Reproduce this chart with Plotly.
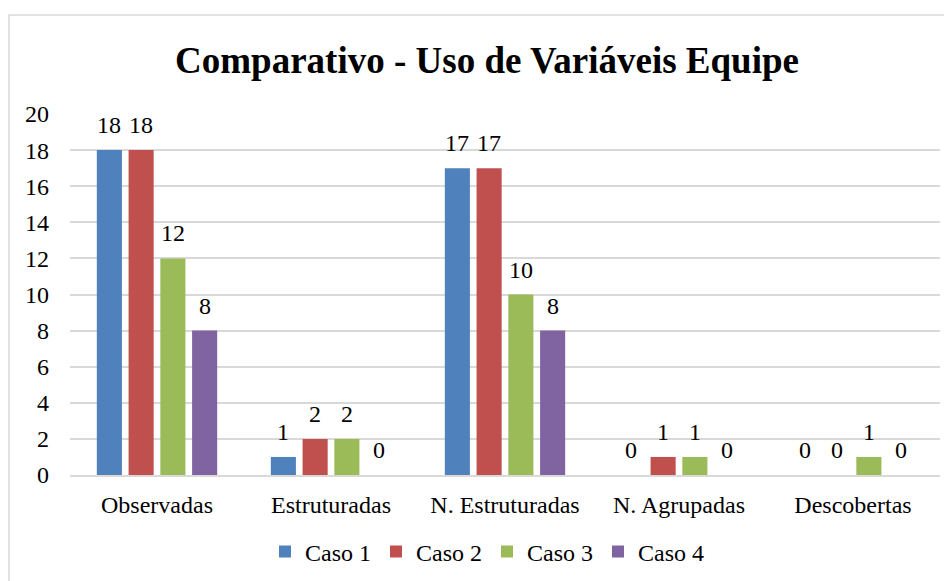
import plotly.graph_objects as go

categories = ["Observadas", "Estruturadas", "N. Estruturadas", "N. Agrupadas", "Descobertas"]
series_names = ["Caso 1", "Caso 2", "Caso 3", "Caso 4"]
caso1 = [18, 1, 17, 0, 0]
caso2 = [18, 2, 17, 1, 0]
caso3 = [12, 2, 10, 1, 1]
caso4 = [8, 0, 8, 0, 0]
colors = ["#4F81BD", "#C0504D", "#9BBB59", "#8064A2"]
y_ticks = [0, 2, 4, 6, 8, 10, 12, 14, 16, 18, 20]

FONT = "Liberation Serif, Times New Roman, serif"

# page body has an 8px default margin; compensate
OFF = 8
W, H = 952 - OFF, 581 - OFF
L = 70 - OFF
T = 114 - OFF
B = H - (475 - OFF)
R = W - (940 - OFF)
pw, ph = W - L - R, H - T - B

BARGAP, GROUPGAP = 0.27, 0.21
all_series = [caso1, caso2, caso3, caso4]

fig = go.Figure()
for name, vals, col in zip(series_names, all_series, colors):
    fig.add_trace(go.Bar(
        name=name, x=categories, y=vals, marker_color=col,
        marker_line_width=0,
    ))

# data labels as annotations above each bar
cat_w = pw / len(categories)
slot = cat_w * (1 - BARGAP) / len(all_series)
annotations = []
for i, vals in enumerate(all_series):
    shift = (i - (len(all_series) - 1) / 2) * slot
    for c, v in zip(categories, vals):
        annotations.append(dict(x=c, y=v, xref="x", yref="y", text=str(v),
                                showarrow=False, xshift=shift, yshift=25,
                                yanchor="middle", xanchor="center",
                                font=dict(family=FONT, size=24, color="#000000")))

fig.update_layout(
    width=W, height=H,
    margin=dict(l=L, r=R, t=T, b=B, autoexpand=False),
    paper_bgcolor="white", plot_bgcolor="white",
    barmode="group", bargap=BARGAP, bargroupgap=GROUPGAP,
    font=dict(family=FONT, size=24, color="#000000"),
    title=dict(text="<b>Comparativo - Uso de Variáveis Equipe</b>",
               font=dict(family=FONT, size=37, color="#000000"),
               x=(487 - OFF) / W, xanchor="center", y=1 - (60 - OFF) / H, yanchor="middle"),
    legend=dict(orientation="h", x=(487 - OFF - L) / pw, xanchor="center",
                y=((475 - OFF) - (552 - OFF)) / ph, yanchor="middle",
                font=dict(family=FONT, size=24), itemwidth=30,
                traceorder="normal"),
    annotations=annotations,
    shapes=[dict(type="rect", xref="paper", yref="paper",
                 x0=(1 - L) / pw, x1=(W + 20 - L) / pw,
                 y0=-(H + 20 - (T + ph)) / ph, y1=((T + ph) - (15 - OFF)) / ph,
                 line=dict(color="#D9D9D9", width=1.5), fillcolor="rgba(0,0,0,0)", layer="below")],
)
fig.update_yaxes(range=[0, 20], tickvals=y_ticks, showgrid=True, gridcolor="#D9D9D9",
                 gridwidth=1.5, zeroline=False, showline=False, ticks="",
                 ticklabelstandoff=20, tickfont=dict(family=FONT, size=24), automargin=False)
fig.update_xaxes(showline=True, linecolor="#D9D9D9", linewidth=1.5, ticks="",
                 ticklabelstandoff=7, tickfont=dict(family=FONT, size=24), automargin=False)

fig.write_html("out.html")
